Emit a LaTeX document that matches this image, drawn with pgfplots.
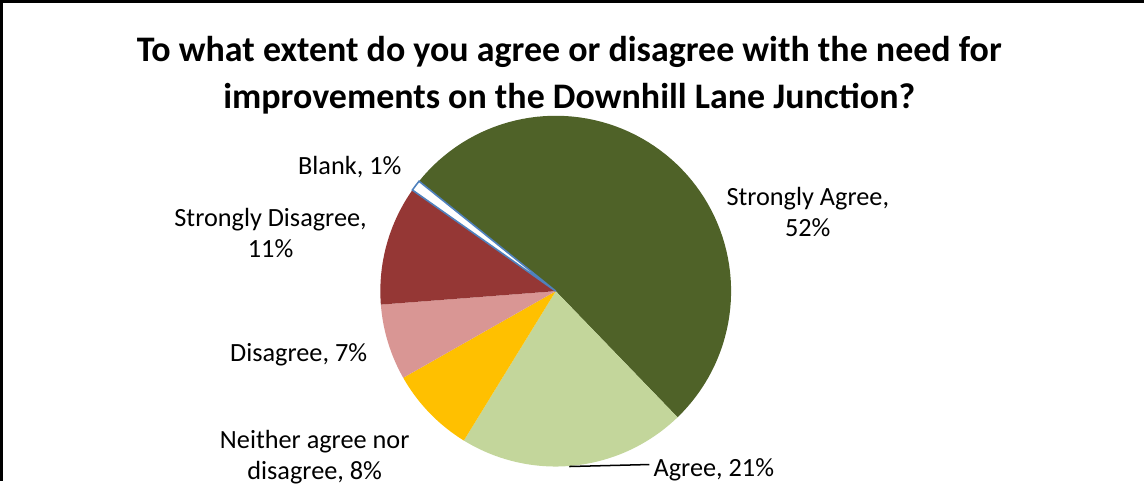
\documentclass[border=0pt]{standalone}
\usepackage{pgfplots}
\pgfplotsset{compat=1.18}
\usepackage{fontspec}
\setmainfont{Carlito}
\definecolor{sagree}{HTML}{4F6228}
\definecolor{agree}{HTML}{C3D69B}
\definecolor{neither}{HTML}{FFC000}
\definecolor{disagree}{HTML}{D99694}
\definecolor{sdisagree}{HTML}{953735}
\definecolor{blankc}{HTML}{4F81BD}
% pie centre (px), radius (px), start angle (deg)
\def\cx{558.5}\def\cy{295}\def\rr{175}\def\st{141.2}
% slices: cumulative percentage ranges
% Strongly Agree 52, Agree 21, Neither 8, Disagree 7, Strongly Disagree 11, Blank 1
\newcommand{\slice}[3]{%
  \addplot[#3, domain=#1:#2, samples=80]
    ({\cx+\rr*cos(\st-3.6*x)},{\cy-\rr*sin(\st-3.6*x)}) -- (axis cs:\cx,\cy) -- cycle;}
\begin{document}
\begin{tikzpicture}
\begin{axis}[
  width=1145bp, height=484bp, scale only axis,
  xmin=0, xmax=1145, ymin=0, ymax=484, y dir=reverse,
  hide axis, clip=false,
]
\slice{0}{52}{fill=sagree, draw=none}
\slice{52}{73}{fill=agree, draw=none}
\slice{73}{81}{fill=neither, draw=none}
\slice{81}{88}{fill=disagree, draw=none}
\slice{88}{99}{fill=sdisagree, draw=none}
\slice{99}{100}{fill=white, draw=blankc, line width=1.6pt}
% frame
\draw[line width=3bp, black] (axis cs:5.5,484) -- (axis cs:5.5,6) -- (axis cs:1145,6);
% title
\node[font=\fontsize{36}{42}\selectfont\bfseries] at (axis cs:572,56) {To what extent do you agree or disagree with the need for};
\node[font=\fontsize{36}{42}\selectfont\bfseries] at (axis cs:572,103) {improvements on the Downhill Lane Junction?};
% labels
\tikzset{lbl/.style={font=\fontsize{26.3}{31}\selectfont, align=center, inner sep=0pt}}
\node[lbl] at (axis cs:353,171) {Blank, 1\%};
\node[lbl] at (axis cs:274,237) {Strongly Disagree,\\11\%};
\node[lbl] at (axis cs:302,358) {Disagree, 7\%};
\node[lbl] at (axis cs:318,461) {Neither agree nor\\disagree, 8\%};
\node[lbl] at (axis cs:810,216) {Strongly Agree,\\52\%};
\node[lbl, anchor=west] at (axis cs:656,473) {Agree, 21\%};
\draw[line width=1.5bp] (axis cs:572,470) -- (axis cs:652,468);
\end{axis}
\end{tikzpicture}
\end{document}
